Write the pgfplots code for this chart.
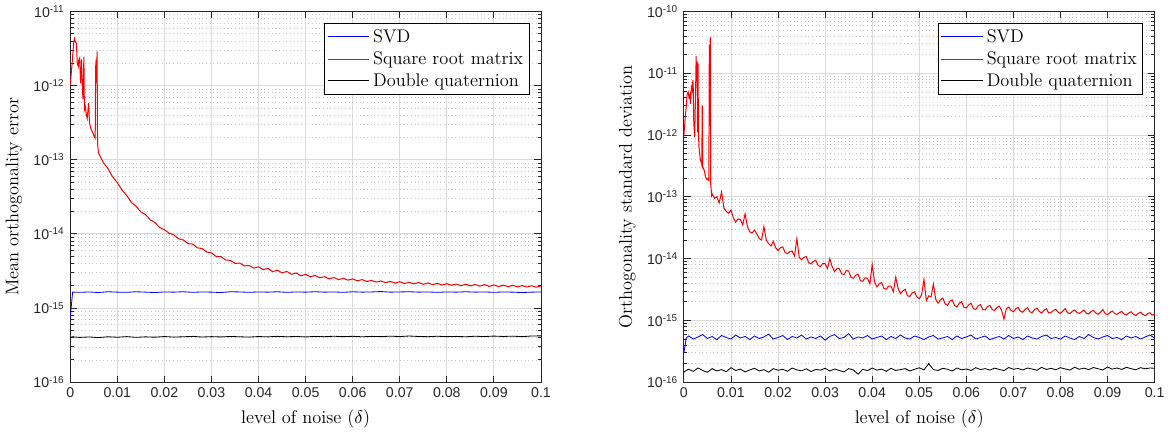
\documentclass[border=0pt]{standalone}
\usepackage{fontspec}
\setsansfont{Liberation Sans}
\usepackage{pgfplots}
\usepackage{pgfplotstable}
\pgfplotsset{compat=1.18}

% left panel: mean orthogonality error
\pgfplotstableread{
x      y
0      1.02e-12
0.0004 2.0e-12
0.0007 3.6e-12
0.0009 4.3e-12
0.0011 3.9e-12
0.0013 3.7e-12
0.0015 2.0e-12
0.0017 1.8e-12
0.0018 2.2e-12
0.0020 2.35e-12
0.0022 1.07e-12
0.0024 2.25e-12
0.0025 1.2e-12
0.0027 6.5e-13
0.0029 2.45e-12
0.0030 4.7e-13
0.0032 5.2e-13
0.0034 4.1e-13
0.0036 3.6e-13
0.0039 5.8e-13
0.0041 3.1e-13
0.0044 2.6e-13
0.0048 2.3e-13
0.0051 2.05e-13
0.0053 1.95e-13
0.0054 1.8e-12
0.0055 2.25e-12
0.0056 1.1e-12
0.0057 2.9e-12
0.0058 1.65e-13
0.006 1.23e-13
0.007 9.2e-14
0.008 7.6e-14
0.009 5.9e-14
0.010 4.9e-14
0.011 3.9e-14
0.012 3.3e-14
0.013 2.65e-14
0.014 2.35e-14
0.015 1.98e-14
0.016 1.82e-14
0.017 1.55e-14
0.018 1.42e-14
0.019 1.22e-14
0.020 1.14e-14
0.021 1.02e-14
0.022 9.7e-15
0.023 8.6e-15
0.024 8.3e-15
0.025 7.4e-15
0.026 7.3e-15
0.027 6.5e-15
0.028 6.35e-15
0.029 5.7e-15
0.030 5.55e-15
0.031 4.95e-15
0.032 4.95e-15
0.033 4.45e-15
0.034 4.4e-15
0.035 4.0e-15
0.036 4.05e-15
0.037 3.7e-15
0.038 3.75e-15
0.039 3.45e-15
0.040 3.6e-15
0.041 3.3e-15
0.042 3.42e-15
0.043 3.1e-15
0.044 3.25e-15
0.045 2.98e-15
0.046 3.12e-15
0.047 2.86e-15
0.048 2.97e-15
0.049 2.72e-15
0.050 2.85e-15
0.051 2.64e-15
0.052 2.76e-15
0.053 2.56e-15
0.054 2.65e-15
0.055 2.48e-15
0.056 2.58e-15
0.057 2.42e-15
0.058 2.52e-15
0.059 2.38e-15
0.060 2.47e-15
0.061 2.33e-15
0.062 2.42e-15
0.063 2.28e-15
0.064 2.36e-15
0.065 2.24e-15
0.066 2.32e-15
0.067 2.20e-15
0.068 2.29e-15
0.069 2.17e-15
0.070 2.27e-15
0.071 2.14e-15
0.072 2.23e-15
0.073 2.12e-15
0.074 2.21e-15
0.075 2.09e-15
0.076 2.18e-15
0.077 2.07e-15
0.078 2.16e-15
0.079 2.04e-15
0.080 2.13e-15
0.081 2.03e-15
0.082 2.11e-15
0.083 2.00e-15
0.084 2.10e-15
0.085 1.99e-15
0.086 2.08e-15
0.087 1.98e-15
0.088 2.07e-15
0.089 1.96e-15
0.090 2.05e-15
0.091 1.95e-15
0.092 2.04e-15
0.093 1.94e-15
0.094 2.03e-15
0.095 1.93e-15
0.096 2.01e-15
0.097 1.92e-15
0.098 2.00e-15
0.099 1.91e-15
0.100 1.98e-15
}\leftred

\pgfplotstableread{
x      svd      dq
0      7.5e-16  4.05e-16
0.0005 1.64e-15 4.10e-16
0.002  1.63e-15 4.02e-16
0.004  1.65e-15 4.08e-16
0.006  1.62e-15 4.00e-16
0.008  1.66e-15 4.10e-16
0.010  1.64e-15 4.04e-16
0.012  1.63e-15 4.12e-16
0.014  1.66e-15 4.03e-16
0.016  1.64e-15 4.09e-16
0.018  1.62e-15 4.05e-16
0.020  1.65e-15 4.13e-16
0.022  1.64e-15 4.06e-16
0.024  1.66e-15 4.10e-16
0.026  1.63e-15 4.15e-16
0.028  1.65e-15 4.07e-16
0.030  1.64e-15 4.12e-16
0.032  1.62e-15 4.08e-16
0.034  1.66e-15 4.14e-16
0.036  1.65e-15 4.10e-16
0.038  1.63e-15 4.06e-16
0.040  1.65e-15 4.13e-16
0.042  1.64e-15 4.09e-16
0.044  1.66e-15 4.16e-16
0.046  1.63e-15 4.10e-16
0.048  1.65e-15 4.14e-16
0.050  1.64e-15 4.08e-16
0.052  1.66e-15 4.15e-16
0.054  1.64e-15 4.11e-16
0.056  1.65e-15 4.17e-16
0.058  1.63e-15 4.12e-16
0.060  1.66e-15 4.16e-16
0.062  1.64e-15 4.10e-16
0.064  1.65e-15 4.15e-16
0.066  1.67e-15 4.12e-16
0.068  1.64e-15 4.18e-16
0.070  1.65e-15 4.13e-16
0.072  1.66e-15 4.20e-16
0.074  1.64e-15 4.14e-16
0.076  1.65e-15 4.11e-16
0.078  1.63e-15 4.17e-16
0.080  1.65e-15 4.12e-16
0.082  1.64e-15 4.15e-16
0.084  1.66e-15 4.10e-16
0.086  1.64e-15 4.17e-16
0.088  1.65e-15 4.13e-16
0.090  1.63e-15 4.19e-16
0.092  1.65e-15 4.14e-16
0.094  1.64e-15 4.18e-16
0.096  1.62e-15 4.12e-16
0.098  1.64e-15 4.20e-16
0.100  1.65e-15 4.22e-16
}\leftflat

% right panel: orthogonality standard deviation
\pgfplotstableread{
x      y
0      1.0e-12
0.0003 2.0e-12
0.0005 2.9e-12
0.0007 4.6e-12
0.0009 5.0e-12
0.0011 4.0e-12
0.0013 4.5e-12
0.0014 3.2e-12
0.0016 6.0e-12
0.0018 5.2e-12
0.0019 7.8e-12
0.0020 5.5e-12
0.0021 1.55e-12
0.0023 9.3e-13
0.0025 6.0e-12
0.0026 1.9e-11
0.0027 8.0e-12
0.0028 1.55e-11
0.0029 1.1e-12
0.0030 1.45e-11
0.0031 1.0e-12
0.0032 6.5e-13
0.0034 4.6e-13
0.0035 4.0e-13
0.0037 3.6e-13
0.0038 3.3e-13
0.0039 3.0e-12
0.0040 3.1e-13
0.0043 2.7e-13
0.0046 2.1e-13
0.0049 1.9e-13
0.0052 2.0e-13
0.0053 1.8e-13
0.0054 2.9e-11
0.0055 1.4e-12
0.0056 3.8e-11
0.0057 1.6e-13
0.0059 1.05e-13
0.0060 1.12e-13
0.0065 9.5e-14
0.0070 1.0e-13
0.0075 8.0e-14
0.0080 1.2e-13
0.0085 6.6e-14
0.0090 5.8e-14
0.0095 5.4e-14
0.0100 6.1e-14
0.0105 4.6e-14
0.0110 3.9e-14
0.0115 4.4e-14
0.0120 4.3e-14
0.0125 3.5e-14
0.0130 5.3e-14
0.0135 3.3e-14
0.0140 2.7e-14
0.0145 2.6e-14
0.0150 2.9e-14
0.0155 2.5e-14
0.0160 2.1e-14
0.0165 2.0e-14
0.0170 3.3e-14
0.0175 2.0e-14
0.0180 1.75e-14
0.0185 1.6e-14
0.0190 1.9e-14
0.0195 1.5e-14
0.0200 1.35e-14
0.0205 1.5e-14
0.0210 1.55e-14
0.0215 1.25e-14
0.0220 1.2e-14
0.0225 1.3e-14
0.0230 1.32e-14
0.0235 1.1e-14
0.0240 2.1e-14
0.0245 1.05e-14
0.0250 9.6e-15
0.0255 1.05e-14
0.0260 1.08e-14
0.0265 8.6e-15
0.0270 8.2e-15
0.0275 9.0e-15
0.0280 9.4e-15
0.0285 7.8e-15
0.0290 7.4e-15
0.0295 8.4e-15
0.0300 8.3e-15
0.0305 6.9e-15
0.0310 1.0e-14
0.0315 7.4e-15
0.0320 6.2e-15
0.0325 6.9e-15
0.0330 6.9e-15
0.0335 5.7e-15
0.0340 5.5e-15
0.0345 6.4e-15
0.0350 6.3e-15
0.0355 5.0e-15
0.0360 4.8e-15
0.0365 5.4e-15
0.0370 5.6e-15
0.0375 4.4e-15
0.0380 4.3e-15
0.0385 4.9e-15
0.0390 4.8e-15
0.0395 3.9e-15
0.0400 8.0e-15
0.0405 4.2e-15
0.0410 3.5e-15
0.0415 3.9e-15
0.0420 4.1e-15
0.0425 3.3e-15
0.0430 3.2e-15
0.0435 3.6e-15
0.0440 3.6e-15
0.0445 2.9e-15
0.0450 5.0e-15
0.0455 3.3e-15
0.0460 2.7e-15
0.0465 3.0e-15
0.0470 3.2e-15
0.0475 2.5e-15
0.0480 2.45e-15
0.0485 2.8e-15
0.0490 2.9e-15
0.0495 2.4e-15
0.0500 2.25e-15
0.0505 2.6e-15
0.0510 4.6e-15
0.0515 2.1e-15
0.0520 2.5e-15
0.0525 2.4e-15
0.0530 3.9e-15
0.0535 2.2e-15
0.0540 1.9e-15
0.0545 2.15e-15
0.0550 2.3e-15
0.0555 1.85e-15
0.0560 1.75e-15
0.0565 2.05e-15
0.0570 2.15e-15
0.0575 1.75e-15
0.0580 1.65e-15
0.0585 1.9e-15
0.0590 2.0e-15
0.0595 1.62e-15
0.0600 1.6e-15
0.0605 1.78e-15
0.0610 1.9e-15
0.0615 1.55e-15
0.0620 1.5e-15
0.0625 1.72e-15
0.0630 1.8e-15
0.0635 1.5e-15
0.0640 1.48e-15
0.0645 1.68e-15
0.0650 1.75e-15
0.0655 1.5e-15
0.0660 1.45e-15
0.0665 1.62e-15
0.0670 1.7e-15
0.0675 1.45e-15
0.0680 1.05e-15
0.0685 1.55e-15
0.0690 1.65e-15
0.0695 1.45e-15
0.0700 1.38e-15
0.0705 1.55e-15
0.0710 1.62e-15
0.0715 1.4e-15
0.0720 1.36e-15
0.0725 1.52e-15
0.0730 1.6e-15
0.0735 1.38e-15
0.0740 1.34e-15
0.0745 1.5e-15
0.0750 1.58e-15
0.0755 1.4e-15
0.0760 1.32e-15
0.0765 1.46e-15
0.0770 1.55e-15
0.0775 1.32e-15
0.0780 1.35e-15
0.0785 1.45e-15
0.0790 1.52e-15
0.0795 1.36e-15
0.0800 1.3e-15
0.0805 1.42e-15
0.0810 1.55e-15
0.0815 1.33e-15
0.0820 1.29e-15
0.0825 1.4e-15
0.0830 1.48e-15
0.0835 1.35e-15
0.0840 1.3e-15
0.0845 1.38e-15
0.0850 1.47e-15
0.0855 1.3e-15
0.0860 1.27e-15
0.0865 1.4e-15
0.0870 1.45e-15
0.0875 1.32e-15
0.0880 1.26e-15
0.0885 1.36e-15
0.0890 1.5e-15
0.0895 1.29e-15
0.0900 1.24e-15
0.0905 1.34e-15
0.0910 1.42e-15
0.0915 1.3e-15
0.0920 1.25e-15
0.0925 1.33e-15
0.0930 1.4e-15
0.0935 1.27e-15
0.0940 1.22e-15
0.0945 1.32e-15
0.0950 1.38e-15
0.0955 1.26e-15
0.0960 1.2e-15
0.0965 1.3e-15
0.0970 1.36e-15
0.0975 1.25e-15
0.0980 1.19e-15
0.0985 1.28e-15
0.0990 1.33e-15
0.0995 1.22e-15
0.1000 1.26e-15
}\rightred

\pgfplotstableread{
x      svd     dq
0      3.0e-16 1.45e-16
0.0005 5.2e-16 1.55e-16
0.001 5.6e-16 1.62e-16
0.002 5.0e-16 1.50e-16
0.003 5.4e-16 1.70e-16
0.004 5.9e-16 1.55e-16
0.005 5.1e-16 1.45e-16
0.006 5.5e-16 1.66e-16
0.007 4.9e-16 1.52e-16
0.008 5.7e-16 1.60e-16
0.009 5.3e-16 1.48e-16
0.010 5.0e-16 1.72e-16
0.011 5.8e-16 1.55e-16
0.012 5.2e-16 1.63e-16
0.013 5.5e-16 1.47e-16
0.014 4.9e-16 1.58e-16
0.015 5.6e-16 1.68e-16
0.016 5.1e-16 1.52e-16
0.017 5.4e-16 1.60e-16
0.018 6.0e-16 1.45e-16
0.019 5.0e-16 1.66e-16
0.020 5.3e-16 1.56e-16
0.021 5.7e-16 1.62e-16
0.022 4.9e-16 1.50e-16
0.023 5.5e-16 1.70e-16
0.024 5.2e-16 1.58e-16
0.025 5.8e-16 1.53e-16
0.026 5.0e-16 1.65e-16
0.027 5.4e-16 1.49e-16
0.028 5.1e-16 1.61e-16
0.029 5.6e-16 1.57e-16
0.030 4.8e-16 1.68e-16
0.031 5.5e-16 1.52e-16
0.032 5.9e-16 1.64e-16
0.033 5.1e-16 1.55e-16
0.034 5.3e-16 1.47e-16
0.035 6.1e-16 1.66e-16
0.036 5.0e-16 1.58e-16
0.037 5.4e-16 1.35e-16
0.038 5.2e-16 1.62e-16
0.039 5.7e-16 1.54e-16
0.040 5.0e-16 1.70e-16
0.041 5.3e-16 1.57e-16
0.042 5.6e-16 1.63e-16
0.043 4.9e-16 1.50e-16
0.044 5.5e-16 1.68e-16
0.045 5.1e-16 1.55e-16
0.046 5.8e-16 1.60e-16
0.047 5.2e-16 1.66e-16
0.048 5.0e-16 1.52e-16
0.049 5.6e-16 1.62e-16
0.050 5.3e-16 1.71e-16
0.051 4.9e-16 1.58e-16
0.052 5.4e-16 2.00e-16
0.053 5.7e-16 1.60e-16
0.054 5.0e-16 1.55e-16
0.055 5.2e-16 1.68e-16
0.056 5.5e-16 1.62e-16
0.057 4.9e-16 1.52e-16
0.058 5.6e-16 1.70e-16
0.059 5.1e-16 1.59e-16
0.060 5.4e-16 1.64e-16
0.061 5.8e-16 1.55e-16
0.062 5.0e-16 1.72e-16
0.063 5.3e-16 1.60e-16
0.064 5.6e-16 1.66e-16
0.065 4.9e-16 1.57e-16
0.066 5.2e-16 1.69e-16
0.067 5.5e-16 1.61e-16
0.068 5.0e-16 1.54e-16
0.069 5.7e-16 1.73e-16
0.070 5.1e-16 1.62e-16
0.071 5.4e-16 1.67e-16
0.072 4.9e-16 1.58e-16
0.073 5.6e-16 1.70e-16
0.074 5.2e-16 1.63e-16
0.075 5.0e-16 1.56e-16
0.076 5.5e-16 1.74e-16
0.077 5.8e-16 1.61e-16
0.078 5.1e-16 1.68e-16
0.079 5.3e-16 1.59e-16
0.080 5.0e-16 1.72e-16
0.081 5.6e-16 1.64e-16
0.082 5.2e-16 1.57e-16
0.083 4.9e-16 1.75e-16
0.084 5.5e-16 1.62e-16
0.085 5.1e-16 1.69e-16
0.086 5.9e-16 1.60e-16
0.087 5.3e-16 1.73e-16
0.088 5.0e-16 1.65e-16
0.089 5.4e-16 1.58e-16
0.090 5.7e-16 1.76e-16
0.091 5.1e-16 1.63e-16
0.092 5.3e-16 1.70e-16
0.093 4.9e-16 1.61e-16
0.094 5.6e-16 1.74e-16
0.095 5.2e-16 1.66e-16
0.096 5.5e-16 1.59e-16
0.097 5.0e-16 1.72e-16
0.098 5.4e-16 1.65e-16
0.099 5.8e-16 1.70e-16
0.100 5.2e-16 1.68e-16
}\rightflat

\pgfplotsset{
  legend image code/.code={\draw[#1, line width=0.6pt] (0pt,0pt) -- (25pt,0pt);},
  mlab/.style={
    scale only axis,
    width=282.6pt, height=222.6pt,
    xmin=0, xmax=0.1,
    xtick={0,0.01,0.02,0.03,0.04,0.05,0.06,0.07,0.08,0.09,0.1},
    xticklabels={0,0.01,0.02,0.03,0.04,0.05,0.06,0.07,0.08,0.09,0.1},
    axis line style={black!85, line width=0.5pt},
    every tick/.style={black!85, line width=0.5pt},
    major tick length=4pt, minor tick length=2pt,
    xmajorgrids, ymajorgrids, yminorgrids,
    major grid style={black!14, line width=0.5pt},
    minor grid style={black!22, dash pattern=on 0.6pt off 1.6pt, line width=0.4pt},
    ticklabel style={font=\sffamily\fontsize{8.5}{10}\selectfont, text=black!85},
    label style={font=\fontsize{11}{13}\selectfont},
    xlabel={level of noise ($\delta$)},
    legend style={at={(1,1)}, anchor=north east, xshift=-7pt, yshift=-7pt,
      draw=black, font=\fontsize{11}{13}\selectfont, inner sep=1.5pt},
    legend cell align=left,
  }
}

\begin{document}
\begin{tikzpicture}
\begin{semilogyaxis}[mlab,
    ymin=1e-16, ymax=1e-11,
    ytick={1e-16,1e-15,1e-14,1e-13,1e-12,1e-11},
    yticklabels={10\textsuperscript{-16},10\textsuperscript{-15},10\textsuperscript{-14},10\textsuperscript{-13},10\textsuperscript{-12},10\textsuperscript{-11}},
    ylabel={Mean orthogonality error},
]
\addplot[color=blue, line width=0.5pt] table[x=x, y=svd] {\leftflat};
\addplot[color=red, line width=0.6pt] table[x=x, y=y] {\leftred};
\addplot[color=black, line width=0.5pt] table[x=x, y=dq] {\leftflat};
\legend{SVD, Square root matrix, Double quaternion}
\end{semilogyaxis}

\begin{semilogyaxis}[mlab, at={(368.4pt,0pt)},
    ymin=1e-16, ymax=1e-10,
    ytick={1e-16,1e-15,1e-14,1e-13,1e-12,1e-11,1e-10},
    yticklabels={10\textsuperscript{-16},10\textsuperscript{-15},10\textsuperscript{-14},10\textsuperscript{-13},10\textsuperscript{-12},10\textsuperscript{-11},10\textsuperscript{-10}},
    ylabel={Orthogonality standard deviation},
]
\addplot[color=blue, line width=0.5pt] table[x=x, y=svd] {\rightflat};
\addplot[color=red, line width=0.6pt] table[x=x, y=y] {\rightred};
\addplot[color=black, line width=0.5pt] table[x=x, y=dq] {\rightflat};
\legend{SVD, Square root matrix, Double quaternion}
\end{semilogyaxis}
\end{tikzpicture}
\end{document}
